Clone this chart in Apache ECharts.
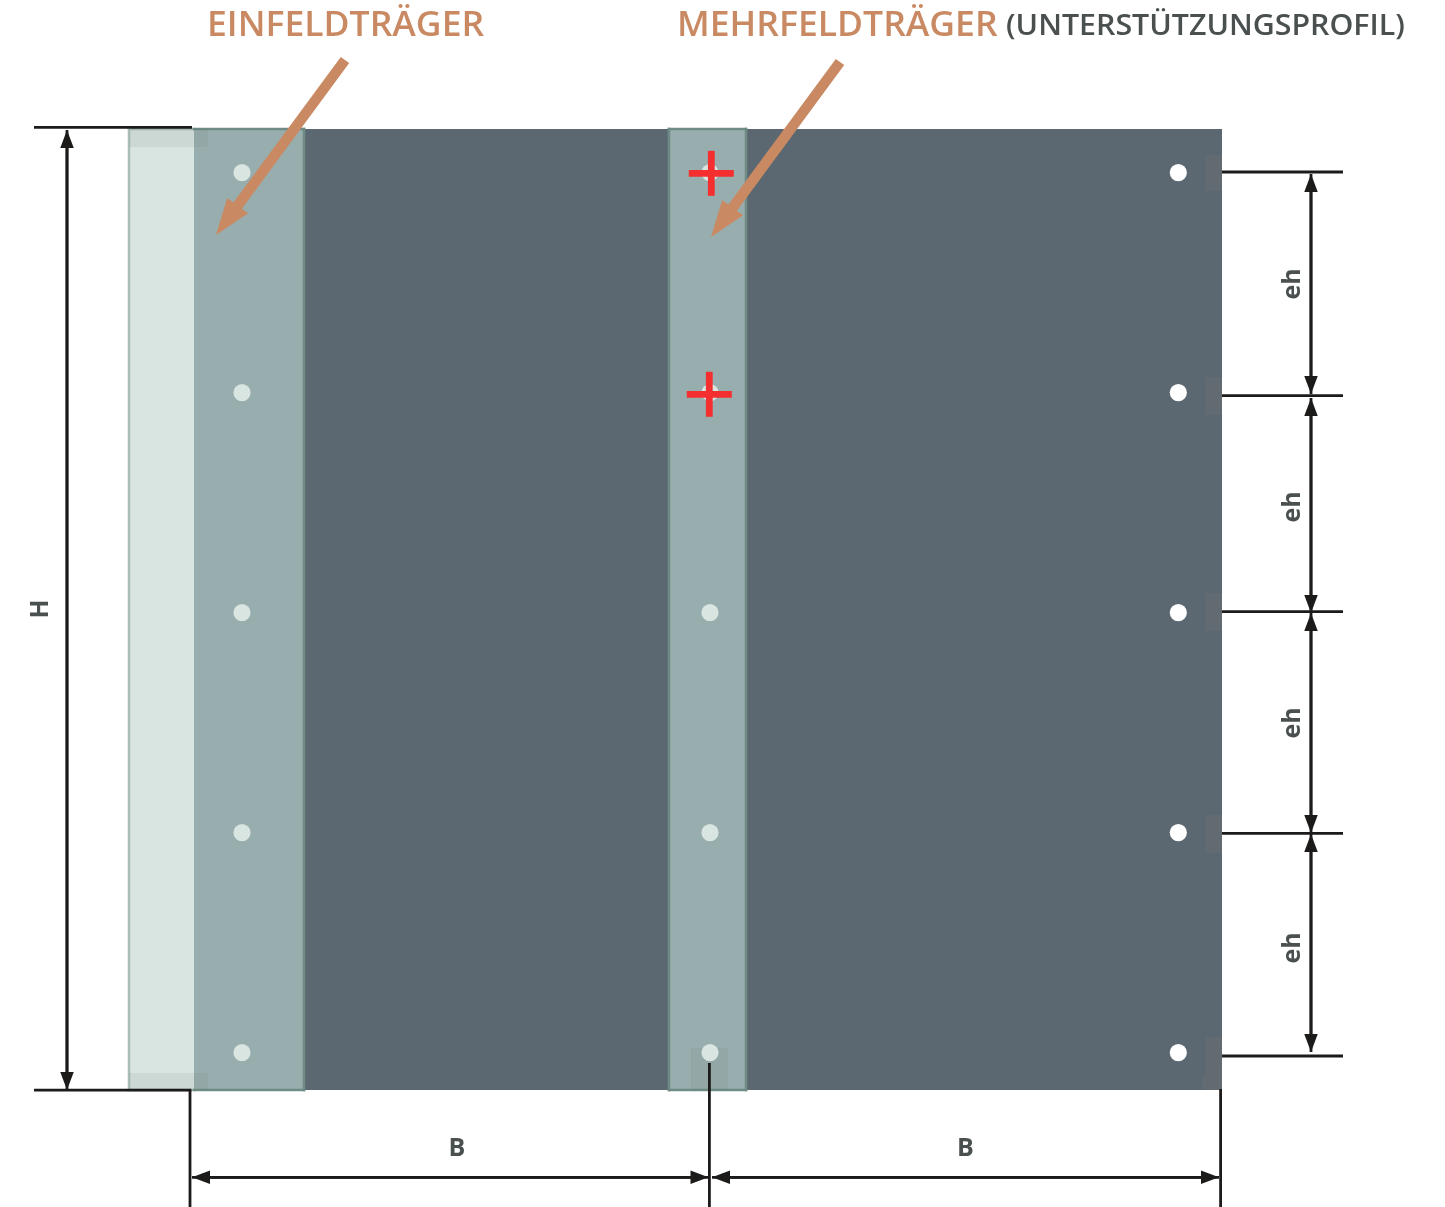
<!DOCTYPE html>
<html>
<head>
<meta charset="utf-8">
<style>html,body{margin:0;padding:0;background:#fff}#chart{width:1445px;height:1207px}</style>
<script src="https://cdn.jsdelivr.net/npm/echarts@6/dist/echarts.min.js"></script>
</head>
<body>
<div id="chart"></div>
<script>
// All values are in the drawing's own units (axis range = the picture).
var darkPanel = [[194, 129, 1222, 1090]];
var edgeStrip = [[129, 129, 194, 1090]];
var girders = [[194, 129, 304, 1090], [669, 129, 746, 1090]];
var edgeStripOutline = [[194, 129, 129, 129], [129, 129, 129, 1090], [129, 1090, 194, 1090]];
var girderOutline = [
  [194, 129, 304, 129], [304, 129, 304, 1090], [194, 1090, 304, 1090],
  [669, 129, 746, 129], [669, 129, 669, 1090], [746, 129, 746, 1090], [669, 1090, 746, 1090]
];
var lightPads = [[129, 129, 208, 147], [129, 1073, 208, 1090], [691, 1048, 728, 1090]];
var darkPads = [[1206, 155, 1222, 191], [1206, 377, 1222, 415], [1206, 593, 1222, 631],
                [1206, 815, 1222, 853], [1206, 1037, 1222, 1075], [1202, 1075, 1222, 1090]];
var rowsY = [172.6, 392.6, 612.6, 832.6, 1052.6];
var innerDotsX = [242, 710];
var outerDotsX = [1178.3];
var crosses = [[711.3, 173.3], [709.3, 394.3]];
var extensionLines = [
  [34, 127.4, 192, 127.4], [34, 1090.2, 191.4, 1090.2],
  [190, 1090, 190, 1207], [709.4, 1063, 709.4, 1207], [1220.6, 1089, 1220.6, 1207],
  [1222, 172, 1343, 172], [1222, 395.7, 1343, 395.7], [1222, 611.6, 1343, 611.6],
  [1222, 833.3, 1343, 833.3], [1222, 1056, 1343, 1056]
];
var dimensionLines = [
  [67, 130, 67, 1090],
  [192, 1177.3, 708.5, 1177.3], [712, 1177.3, 1219, 1177.3],
  [1311, 174, 1311, 394], [1311, 398, 1311, 613], [1311, 613, 1311, 833], [1311, 834, 1311, 1052]
];
var calloutArrows = [[345, 60, 216, 235], [840, 62, 711, 237]];
var calloutLabels = [[207, 26, 'EINFELDTRÄGER', 0, 1.045], [677, 26, 'MEHRFELDTRÄGER', 0, 1.045]];
var noteLabels = [[1006, 27, '(UNTERSTÜTZUNGSPROFIL)', 0, 1.084]];
var dimensionLabels = [
  [41, 609, 'H', 1], [1293, 284, 'eh', 1], [1293, 507, 'eh', 1], [1293, 723, 'eh', 1], [1293, 948, 'eh', 1],
  [457, 1149, 'B', 0], [965.5, 1149, 'B', 0]
];

var dots = function (xs) {
  var out = [];
  xs.forEach(function (x) { rowsY.forEach(function (y) { out.push([x, y]); }); });
  return out;
};
function base(data, renderItem) {
  return { type: 'custom', coordinateSystem: 'cartesian2d', data: data, clip: false, silent: true,
           animation: false, renderItem: renderItem, encode: { x: 0, y: 1 } };
}
function rects(data, fill) {
  return base(data, function (p, api) {
    var a = api.coord([api.value(0), api.value(1)]), b = api.coord([api.value(2), api.value(3)]);
    return { type: 'rect', shape: { x: a[0], y: a[1], width: b[0] - a[0], height: b[1] - a[1] }, style: { fill: fill } };
  });
}
function segments(data, stroke, width, cap) {
  return base(data, function (p, api) {
    var a = api.coord([api.value(0), api.value(1)]), b = api.coord([api.value(2), api.value(3)]);
    return { type: 'line', shape: { x1: a[0], y1: a[1], x2: b[0], y2: b[1] }, style: { stroke: stroke, lineWidth: width, lineCap: cap } };
  });
}
function circles(data, fill) {
  return base(data, function (p, api) {
    var a = api.coord([api.value(0), api.value(1)]);
    return { type: 'circle', shape: { cx: a[0], cy: a[1], r: 8.6 }, style: { fill: fill } };
  });
}
function arrow(a, b, headLen, headW, shaftW) {
  var dx = b[0] - a[0], dy = b[1] - a[1], L = Math.sqrt(dx * dx + dy * dy);
  var ux = dx / L, uy = dy / L, nx = -uy, ny = ux;
  var bx = b[0] - ux * headLen, by = b[1] - uy * headLen;
  return [
    [a[0] + nx * shaftW / 2, a[1] + ny * shaftW / 2],
    [bx + nx * shaftW / 2, by + ny * shaftW / 2],
    [bx + nx * headW / 2, by + ny * headW / 2],
    b,
    [bx - nx * headW / 2, by - ny * headW / 2],
    [bx - nx * shaftW / 2, by - ny * shaftW / 2],
    [a[0] - nx * shaftW / 2, a[1] - ny * shaftW / 2]
  ];
}
function arrows(data, fill, headLen, headW, shaftW, both) {
  return base(data, function (p, api) {
    var a = api.coord([api.value(0), api.value(1)]), b = api.coord([api.value(2), api.value(3)]);
    var kids = [{ type: 'polygon', shape: { points: arrow(a, b, headLen, headW, shaftW) }, style: { fill: fill } }];
    if (both) kids.push({ type: 'polygon', shape: { points: arrow(b, a, headLen, headW, shaftW) }, style: { fill: fill } });
    return { type: 'group', children: kids };
  });
}
function texts(data, color, font, align) {
  return base(data.map(function (d) { return [d[0], d[1]]; }), function (p, api) {
    var a = api.coord([api.value(0), api.value(1)]), d = data[p.dataIndex];
    return { type: 'text', x: a[0], y: a[1], rotation: d[3] ? Math.PI / 2 : 0, scaleX: d[4] || 1,
      style: { text: d[2], fill: color, font: font, textAlign: align, textVerticalAlign: 'middle' } };
  });
}
var crossSeries = base(crosses, function (p, api) {
  var a = api.coord([api.value(0), api.value(1)]);
  return { type: 'group', children: [
    { type: 'line', shape: { x1: a[0] - 22.5, y1: a[1], x2: a[0] + 22.5, y2: a[1] }, style: { stroke: '#f52f2f', lineWidth: 6.8 } },
    { type: 'line', shape: { x1: a[0], y1: a[1] - 22.5, x2: a[0], y2: a[1] + 22.5 }, style: { stroke: '#f52f2f', lineWidth: 6.8 } }
  ] };
});

var chart = echarts.init(document.getElementById('chart'), null, { renderer: 'canvas' });
chart.setOption({
  backgroundColor: '#ffffff',
  animation: false,
  tooltip: { show: false },
  grid: { left: 0, right: 0, top: 0, bottom: 0 },
  xAxis: { type: 'value', min: 0, max: 1445, show: false },
  yAxis: { type: 'value', min: 0, max: 1207, inverse: true, show: false },
  series: [
    rects(darkPanel, '#5c6871'),
    rects(edgeStrip, '#d9e5e1'),
    rects(girders, '#98adad'),
    segments(edgeStripOutline, '#a9bfb8', 2.5, 'square'),
    segments(girderOutline, '#6f8b85', 2.5, 'square'),
    rects(lightPads, 'rgba(110,125,115,0.12)'),
    rects(darkPads, 'rgba(125,125,110,0.17)'),
    circles(dots(innerDotsX), '#d9e5e1'),
    circles(dots(outerDotsX), '#ffffff'),
    crossSeries,
    segments(extensionLines, '#1d1a1a', 2.8, 'butt'),
    arrows(dimensionLines, '#1d1a1a', 18, 13.5, 2.8, true),
    arrows(calloutArrows, '#c98a63', 36.5, 26, 10.5, false),
    texts(calloutLabels, '#c98a63', '600 34px "Open Sans"', 'left'),
    texts(noteLabels, '#4a5050', '600 28px "Open Sans"', 'left'),
    texts(dimensionLabels, '#4a5050', '700 25px "Open Sans"', 'center')
  ]
});
</script>
</body>
</html>
